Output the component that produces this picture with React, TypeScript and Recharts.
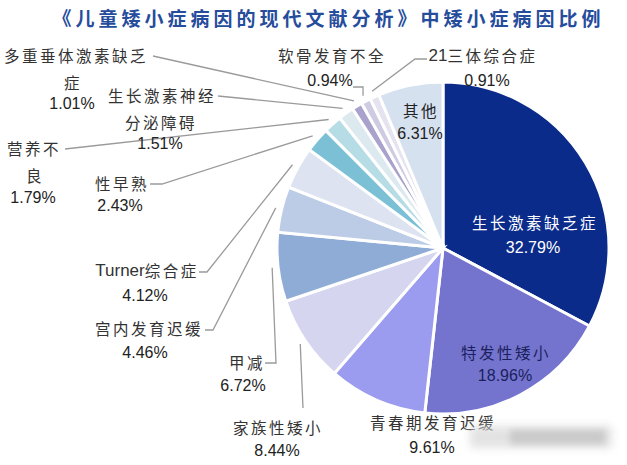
import React from 'react';
import { PieChart, Pie, Cell } from 'recharts';

const TITLE = '《儿童矮小症病因的现代文献分析》中矮小症病因比例';

const causes = [
  '生长激素缺乏症',
  '特发性矮小',
  '青春期发育迟缓',
  '家族性矮小',
  '甲减',
  '宫内发育迟缓',
  'Turner综合症',
  '性早熟',
  '营养不良',
  '生长激素神经分泌障碍',
  '多重垂体激素缺乏症',
  '软骨发育不全',
  '21三体综合症',
  '其他',
];

const shares = [32.79, 18.96, 9.61, 8.44, 6.72, 4.46, 4.12, 2.43, 1.79, 1.51, 1.01, 0.94, 0.91, 6.31];

const sliceColors = [
  '#0b2b8a', '#7474cf', '#9b9bef', '#d5d5ef', '#8eacd6', '#bccce6', '#dde3f1',
  '#7cc0d6', '#b6dce6', '#dce9ef', '#a8a2cc', '#cfcbe2', '#e5e3f0', '#d6e1f0',
];

// characters in each name line (label layout)
const nameBreaks = [[7], [5], [7], [5], [2], [6], [9], [3], [3, 1], [6, 4], [8, 1], [6], [7], [2]];

type Layout = {
  name: [number, number][];
  pct: [number, number];
  color?: string;
  line?: [number, number][];
};

const labelLayout: Layout[] = [
  { name: [[535, 222]], pct: [533, 247], color: '#ffffff' },
  { name: [[506, 352]], pct: [505, 375], color: '#1b1f5c' },
  { name: [[433, 422]], pct: [432, 447] },
  { name: [[278, 427]], pct: [277, 450], line: [[303, 408]] },
  { name: [[247, 362]], pct: [243, 385], line: [[265, 363], [276, 363]] },
  { name: [[149, 328]], pct: [145, 352], line: [[205, 330], [213, 330]] },
  { name: [[147, 270]], pct: [145, 295], line: [[199, 272], [207, 272]] },
  { name: [[122, 183]], pct: [120, 205], line: [[150, 184], [162, 184]] },
  { name: [[34, 148], [35, 175]], pct: [33, 197], line: [[65, 149]] },
  { name: [[162, 95], [161, 122]], pct: [160, 143], line: [[218, 96]] },
  { name: [[76, 55], [73, 82]], pct: [72, 103], line: [[153, 56]] },
  { name: [[332, 55]], pct: [330, 80], line: [[353, 87], [363, 87]] },
  { name: [[483, 55]], pct: [487, 80], line: [[427, 59], [415, 59]] },
  { name: [[421, 110]], pct: [420, 133], color: '#222222' },
];

const data = causes.map((name, i) => ({ name, value: shares[i] }));

const RAD = Math.PI / 180;

const splitRuns = (s: string) => {
  const runs: { t: string; latin: boolean }[] = [];
  for (const ch of s) {
    const latin = ch.charCodeAt(0) < 128;
    const last = runs[runs.length - 1];
    if (last && last.latin === latin) last.t += ch;
    else runs.push({ t: ch, latin });
  }
  return runs;
};

const renderLabel = (props: any) => {
  const { cx, cy, midAngle, outerRadius, index } = props;
  const lay = labelLayout[index];
  if (!lay) return null;
  const name: string = causes[index];
  const breaks = nameBreaks[index];
  const parts: string[] = [];
  let p = 0;
  for (const b of breaks) {
    parts.push(name.slice(p, p + b));
    p += b;
  }
  const textColor = lay.color || '#333333';
  let linePts: string | null = null;
  if (lay.line) {
    const r = outerRadius + 6;
    const ex = cx + r * Math.cos(-midAngle * RAD);
    const ey = cy + r * Math.sin(-midAngle * RAD);
    const pts = [...lay.line, [ex, ey]];
    linePts = pts.map((q) => `${q[0]},${q[1]}`).join(' ');
  }
  return (
    <g key={`lbl-${index}`}>
      {linePts && (
        <polyline points={linePts} fill="none" stroke="#9a9a9a" strokeWidth={1.3} />
      )}
      {parts.map((t, k) => (
        <text
          key={k}
          x={lay.name[k][0]}
          y={lay.name[k][1]}
          textAnchor="middle"
          dominantBaseline="central"
          fill={textColor}
        >
          {splitRuns(t).map((r, j) =>
            r.latin ? (
              <tspan key={j} fontFamily="'Liberation Sans', Arial, sans-serif" fontSize={17} letterSpacing={0}>
                {r.t}
              </tspan>
            ) : (
              <tspan key={j} fontFamily="'Noto Sans CJK SC', sans-serif" fontSize={15.5} letterSpacing={2.5}>
                {r.t}
              </tspan>
            )
          )}
        </text>
      ))}
      <text
        x={lay.pct[0]}
        y={lay.pct[1]}
        textAnchor="middle"
        dominantBaseline="central"
        fontFamily="'Liberation Sans', Arial, sans-serif"
        fontSize={16}
        fill={lay.color || '#222222'}
      >
        {shares[index].toFixed(2)}%
      </text>
    </g>
  );
};

export default function App() {
  return (
    <div style={{ position: 'absolute', left: 0, top: 0, width: 627, height: 465, background: '#ffffff' }}>
      <div
        style={{
          position: 'absolute',
          left: 0,
          top: 6,
          width: 627,
          textAlign: 'center',
          fontFamily: "'Noto Sans CJK SC', sans-serif",
          fontWeight: 700,
          fontSize: 19,
          letterSpacing: 4,
          color: '#264c9c',
          paddingLeft: 30,
          boxSizing: 'border-box',
          lineHeight: '24px',
        }}
      >
        {TITLE}
      </div>
      <PieChart width={627} height={465} margin={{ top: 0, right: 0, bottom: 0, left: 0 }}>
        <Pie
          data={data}
          dataKey="value"
          nameKey="name"
          cx={443}
          cy={248}
          outerRadius={166}
          startAngle={90}
          endAngle={-270}
          stroke="#ffffff"
          strokeWidth={3}
          label={renderLabel}
          labelLine={false}
          isAnimationActive={false}
        >
          {data.map((d, i) => (
            <Cell key={d.name} fill={sliceColors[i]} />
          ))}
        </Pie>
      </PieChart>
      <div
        style={{
          position: 'absolute',
          left: 470,
          top: 426,
          width: 142,
          height: 22,
          background: '#dcdcdc',
          filter: 'blur(4px)',
          opacity: 0.8,
        }}
      />
      <div
        style={{
          position: 'absolute',
          left: 510,
          top: 430,
          width: 95,
          height: 14,
          background: '#c4c4c4',
          filter: 'blur(3px)',
          opacity: 0.8,
        }}
      />
    </div>
  );
}
